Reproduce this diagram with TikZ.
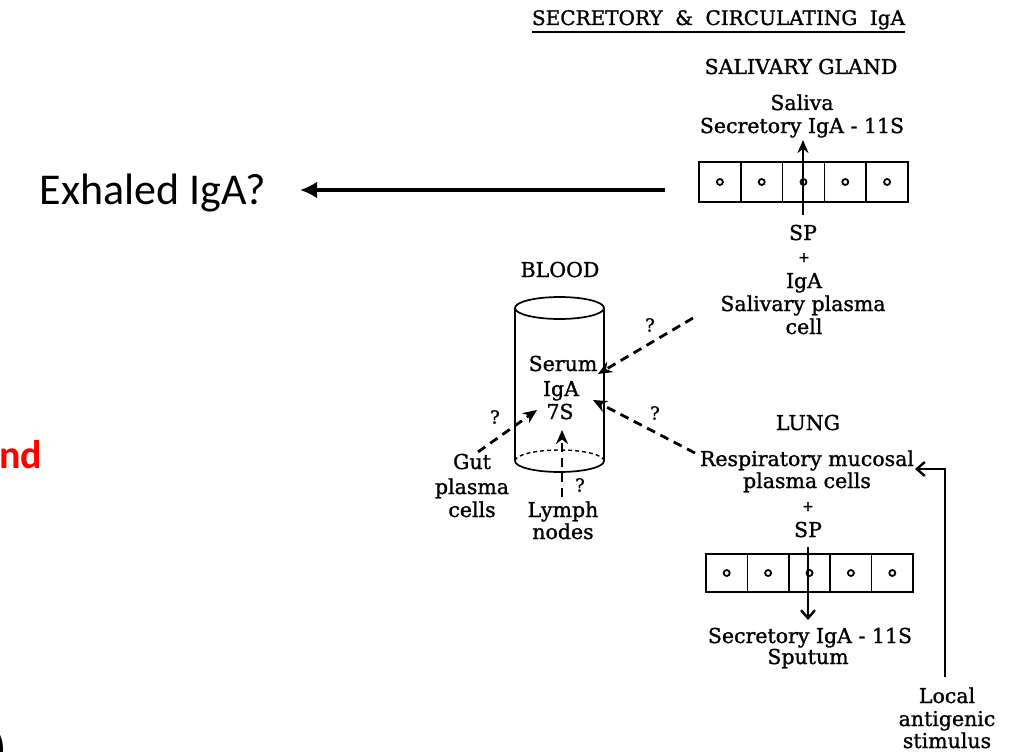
\documentclass[tikz,border=0pt]{standalone}
\usepackage{fontspec}
\setmainfont{DejaVu Serif}[FakeBold=1.2]
\newfontfamily\calibri{Carlito}
\usetikzlibrary{arrows.meta}
\begin{document}
\begin{tikzpicture}[x=1pt,y=-1pt,
  txt/.style={font=\fontsize{20.5}{23}\selectfont, inner sep=0pt, anchor=base},
  small/.style={font=\fontsize{14}{16}\selectfont, inner sep=0pt, anchor=base},
  qm/.style={font=\fontsize{18}{20}\selectfont, inner sep=0pt},
  cellbox/.style={draw, line width=1.5pt, minimum height=40pt, inner sep=0pt},
  celldot/.style={draw, circle, line width=1.8pt, minimum size=6pt, inner sep=0pt},
  solidarrow/.style={line width=2.4pt, -{Stealth[length=13pt,width=11pt]}},
  dasharrow/.style={line width=2.8pt, dash pattern=on 9pt off 6pt, -{Stealth[length=14pt,width=12pt]}},
  barbarrow/.style={line width=2.4pt, -{Straight Barb[length=8pt,width=14pt]}},
  cyl/.style={line width=1.7pt},
]
\useasboundingbox (0,0) rectangle (1020,752);
\clip (0,0) rectangle (1020,752);

% ---------- left slide fragments ----------
\node[font=\calibri\fontsize{44}{50}\selectfont, inner sep=0pt, anchor=base east] (exh) at (266,204) {Exhaled IgA?};
\node[font=\calibri\bfseries\fontsize{40}{46}\selectfont, text=red, inner sep=0pt, anchor=base west] (nd) at (-1,468) {nd};
\node[font=\calibri\fontsize{48}{54}\selectfont, inner sep=0pt, anchor=base east] (paren) at (7,764) {)};

\coordinate (exstart) at (665,190);
\coordinate (extip) at (300,190);
\draw[line width=4.5pt, -{Latex[length=17pt,width=17pt]}] (exstart) -- (extip);

% ---------- title ----------
\node[font=\fontsize{20}{22}\selectfont, inner sep=0pt, anchor=base] (title) at (718.5,25)
  {\makebox[373pt][s]{SECRETORY \& CIRCULATING IgA}};
\draw[line width=1.5pt] ([yshift=-7pt]title.base west) -- ([yshift=-7pt]title.base east);

% ---------- salivary gland ----------
\node[txt] (salgland) at (801,74) {SALIVARY GLAND};
\node[txt] (saliva) at (802,110) {Saliva};
\node[txt] (salsec) at (802,133) {Secretory IgA - 11S};

\foreach \i in {0,...,4}{
  \node[cellbox, minimum width=41.8pt] (s\i) at ({699+20.9+41.8*\i},182) {};
  \node[celldot] at (s\i) {};
}

\node[txt] (salsp) at (803,240) {SP};
\node[small] (salplus) at (804,262) {+};
\node[txt] (saliga) at (804,288) {IgA};
\node[txt] (salpc) at (803,311) {Salivary plasma};
\node[txt] (salcell) at (804,334) {cell};

\coordinate (salin) at (803,215);
\coordinate (salout) at (803,140);
\draw[solidarrow] (salin) -- (salout);

% ---------- blood ----------
\node[txt] (blood) at (560,277) {BLOOD};
\draw[cyl] (559.5,308) ellipse [x radius=44.5pt, y radius=11pt];
\draw[cyl] (515,308) -- (515,461);
\draw[cyl] (604,308) -- (604,461);
\draw[cyl] (515,461) arc[start angle=180, end angle=360, x radius=44.5pt, y radius=11pt];
\draw[line width=1.4pt, dash pattern=on 4pt off 3pt] (604,461) arc[start angle=0, end angle=180, x radius=44.5pt, y radius=11pt];

\node[txt] (serum) at (563,371) {Serum};
\node[txt] (seriga) at (561,396) {IgA};
\node[txt] (ser7s) at (560,419) {7S};

\node[txt] (gut1) at (472,469) {Gut};
\node[txt] (gut2) at (472,494) {plasma};
\node[txt] (gut3) at (472,517) {cells};
\node[txt] (lymph1) at (563,517) {Lymph};
\node[txt] (lymph2) at (563,539) {nodes};

% dashed arrows into serum
\coordinate (salfrom) at (693,318);
\coordinate (salto) at (598,374);
\draw[dasharrow] (salfrom) -- (salto);
\node[qm] (q1) at (650,325) {?};

\coordinate (lungfrom) at (695,453);
\coordinate (lungto) at (593,400);
\draw[dasharrow] (lungfrom) -- (lungto);
\node[qm] (q2) at (655,413) {?};

\coordinate (gutfrom) at (478,452);
\coordinate (gutto) at (537,410);
\draw[dasharrow] (gutfrom) -- (gutto);
\node[qm] (q3) at (495,417) {?};

\coordinate (lymfrom) at (562,497);
\coordinate (lymto) at (562,430);
\draw[dasharrow] (lymfrom) -- (lymto);
\node[qm] (q4) at (580,485) {?};

% ---------- lung ----------
\node[txt] (lung) at (808,430) {LUNG};
\node[txt] (resp1) at (807,466) {Respiratory mucosal};
\node[txt] (resp2) at (807,488) {plasma cells};
\node[small] (lplus) at (808,511) {+};
\node[txt] (lsp) at (808,537) {SP};

\foreach \i in {0,...,4}{
  \node[cellbox, minimum width=41.4pt, minimum height=38pt] (l\i) at ({706+20.7+41.4*\i},573) {};
  \node[celldot] at (l\i) {};
}

\coordinate (lin) at (808,547);
\coordinate (lout) at (808,620);
\draw[barbarrow] (lin) -- (lout);

\node[txt] (lsec) at (810,643) {Secretory IgA - 11S};
\node[txt] (sputum) at (808,664) {Sputum};

\node[txt] (local1) at (947,703) {Local};
\node[txt] (local2) at (947,726) {antigenic};
\node[txt] (local3) at (947,748) {stimulus};

\coordinate (stimfrom) at (945,677);
\coordinate (stimto) at (915,469);
\draw[barbarrow] (stimfrom) |- (stimto);
\end{tikzpicture}
\end{document}
